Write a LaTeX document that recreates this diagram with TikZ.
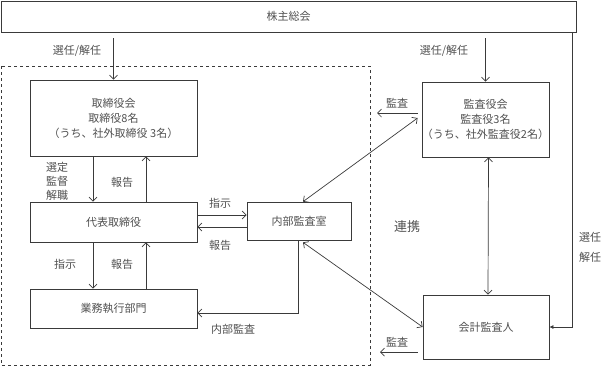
\documentclass[tikz,border=0pt]{standalone}
\usepackage{fontspec}
\setmainfont{Noto Sans CJK JP}
\usetikzlibrary{arrows.meta}
\definecolor{inkgray}{HTML}{3A3A3A}
\definecolor{txtgray}{HTML}{505050}
\begin{document}
\begin{tikzpicture}[x=1pt,y=-1pt,line width=0.7pt,draw=inkgray,
    >={Straight Barb[length=4pt,width=8pt]},
    unit box/.style={draw=inkgray,rectangle,align=center,text=txtgray,
      font=\fontsize{11}{15}\selectfont,inner sep=0pt},
    lbl/.style={text=txtgray,font=\fontsize{11}{14}\selectfont,align=center,inner sep=0pt} ]
    \useasboundingbox (0,0) rectangle (612,367);
    \node at (288.5,16.5) [unit box,minimum width=575pt,minimum height=31pt,line width=0.9pt] (soukai) {株主総会};
    \draw [dashed,line width=0.8pt] (1,66) rectangle (370,365);
    \node at (113.5,118) [unit box,minimum width=167pt,minimum height=76pt] (torikai) {取締役会\\取締役8名\\（うち、社外取締役 3名）};
    \node at (113.5,222) [unit box,minimum width=167pt,minimum height=40pt] (daihyo) {代表取締役};
    \node at (113.5,308.5) [unit box,minimum width=167pt,minimum height=39pt] (gyomu) {業務執行部門};
    \node at (299,221) [unit box,minimum width=104pt,minimum height=38pt] (naibu) {内部監査室};
    \node at (485.5,119.5) [unit box,minimum width=127pt,minimum height=75pt] (kansakai) {監査役会\\監査役3名\\（うち、社外監査役2名）};
    \node at (486,327) [unit box,minimum width=126pt,minimum height=64pt] (kaikei) {会計監査人};
    \coordinate (kansaA) at (377,113);
    \coordinate (kansaB) at (380,352);
    \node at (77,51) [lbl] (sen1) {選任/解任};
    \node at (444,51) [lbl] (sen2) {選任/解任};
    \node at (57,181) [lbl] (sentei) {選定\\監督\\解職};
    \node at (122,182) [lbl] (hok1) {報告};
    \node at (220,203) [lbl] (shiji1) {指示};
    \node at (220,245) [lbl] (hok2) {報告};
    \node at (65,264) [lbl] (shiji2) {指示};
    \node at (122,264) [lbl] (hok3) {報告};
    \node at (233,329) [lbl] (naikan) {内部監査};
    \node at (397,103) [lbl] (kansa1) {監査};
    \node at (397,342) [lbl] (kansa2) {監査};
    \node at (407,227) [lbl,font=\fontsize{13}{14}\selectfont] (renkei) {連携};
    \node at (590,237) [lbl] (sen3) {選任};
    \node at (590,257) [lbl] (kai3) {解任};
    \draw [->] ([yshift=-6pt]soukai.south -| torikai.north) to (torikai.north);
    \draw [->] ([yshift=-6pt]soukai.south -| kansakai.north) to (kansakai.north);
    \draw [->] ([xshift=-20.5pt]torikai.south) to ([xshift=-20.5pt]daihyo.north);
    \draw [->] ([xshift=32.5pt]daihyo.north) to ([xshift=32.5pt]torikai.south);
    \draw [->] ([xshift=-20.5pt]daihyo.south) to ([xshift=-20.5pt]gyomu.north);
    \draw [->] ([xshift=32.5pt]gyomu.north) to ([xshift=32.5pt]daihyo.south);
    \draw [->] ([yshift=7pt]daihyo.east) to ([yshift=7pt]daihyo.east -| naibu.west);
    \draw [->] ([yshift=-5pt]daihyo.east -| naibu.west) to ([yshift=-5pt]daihyo.east);
    \draw [->] ([xshift=-1pt]naibu.south) |- ([yshift=-4.5pt]gyomu.east);
    \draw [<->] ([xshift=-4pt,yshift=1.5pt]kansakai.west) to ([xshift=4pt]naibu.north);
    \draw [<->] ([xshift=4pt,yshift=-2pt]naibu.south) to (kaikei.west);
    \draw [->] ([xshift=-4pt,yshift=6.5pt]kansakai.west) to (kansaA);
    \draw [->] ([xshift=-5pt]kaikei.south west |- kansaB) to (kansaB);
    \draw [<->] ([xshift=3pt]kansakai.south) to ([xshift=2pt]kaikei.north);
    \draw [-{Latex[length=4pt,width=4pt]}] ([xshift=-4pt]soukai.south east) |- (kaikei.east);
\end{tikzpicture}
\end{document}
